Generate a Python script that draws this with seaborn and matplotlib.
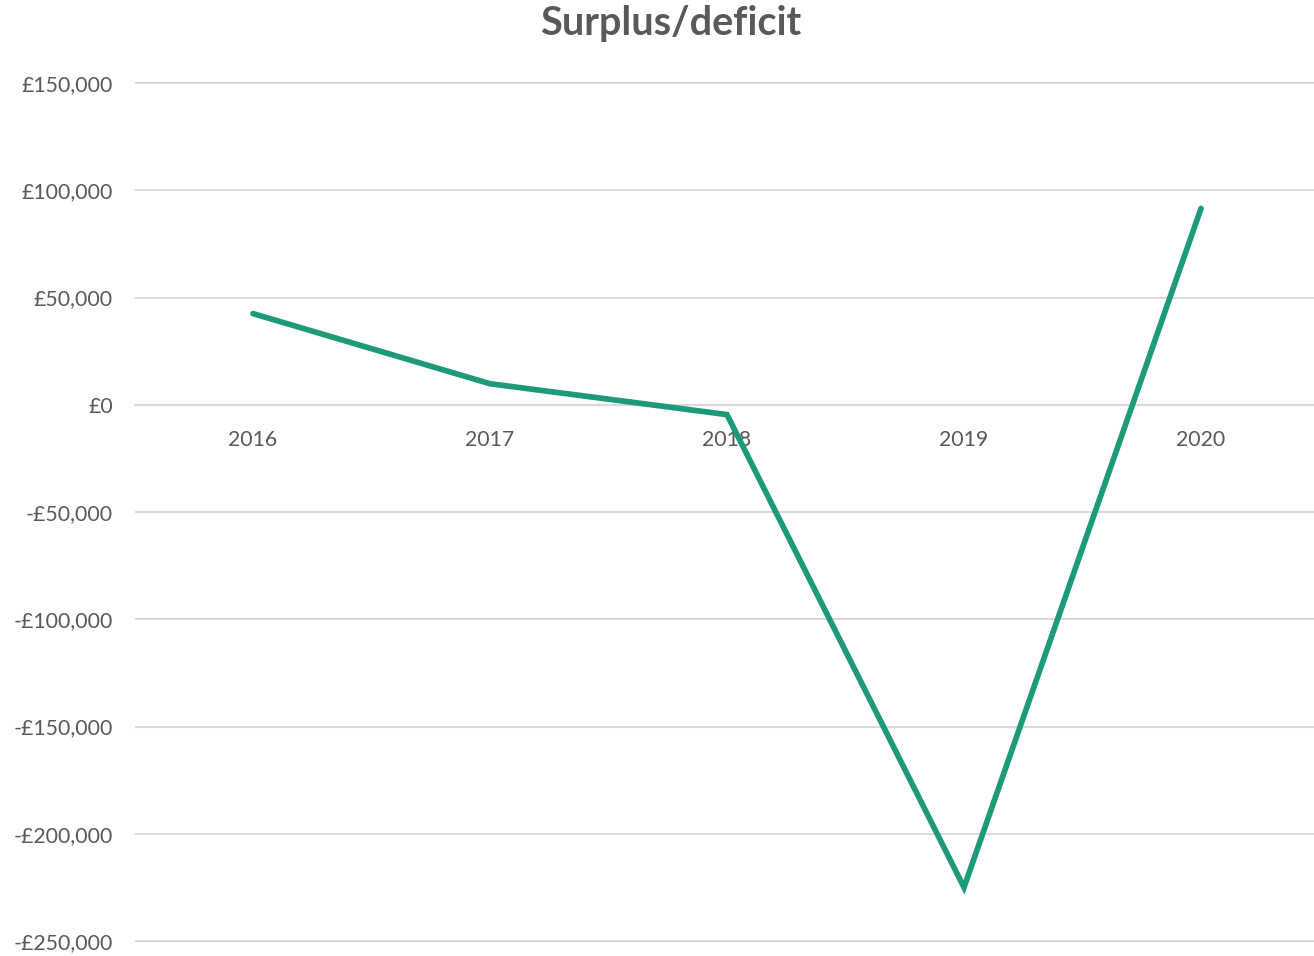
import matplotlib.pyplot as plt
import matplotlib.ticker as mticker
import pandas as pd
import seaborn as sns

# data
YEARS = ["2016", "2017", "2018", "2019", "2020"]
SURPLUS = [42500, 9800, -4600, -225000, 91500]
Y_TICKS = [150000, 100000, 50000, 0, -50000, -100000, -150000, -200000, -250000]

GREY = "#595959"
GRID = "#d9d9d9"
LINE = "#1d9a78"

sns.set_theme(style="white")
plt.rcParams["font.family"] = ["Lato", "DejaVu Sans"]

df = pd.DataFrame({"year": YEARS, "surplus": SURPLUS})

W, H = 1314, 956
fig = plt.figure(figsize=(W / 100, H / 100), dpi=100)
# axes placed in pixel terms so it lines up with the original
left, right, top, bottom = 135, 1314, 80, 944
ax = fig.add_axes([left / W, (H - bottom) / H, (right - left) / W, (bottom - top) / H])

sns.lineplot(data=df, x="year", y="surplus", ax=ax, color=LINE, linewidth=4.1,
             sort=False, solid_capstyle="round", solid_joinstyle="miter", zorder=3)

per_px = 400000 / 858
ax.set_ylim(-250000 - 3 * per_px, 150000 + 3 * per_px)
ax.set_xlim(-(253 - left) / 237, (right - 253) / 237)
ax.set_yticks(Y_TICKS)
ax.yaxis.set_major_formatter(mticker.FuncFormatter(
    lambda v, _: f"-£{abs(v):,.0f}" if v < 0 else f"£{v:,.0f}"))
ax.grid(axis="y", color=GRID, linewidth=1.5)
ax.set_axisbelow(True)

for s in ["left", "right", "top"]:
    ax.spines[s].set_visible(False)
# category labels sit on the zero line, as in the original
ax.spines["bottom"].set_position(("data", 0))
ax.spines["bottom"].set_color(GRID)
ax.spines["bottom"].set_linewidth(1.5)

ax.tick_params(axis="y", length=0, pad=16, labelsize=15.3, labelcolor=GREY)
ax.tick_params(axis="x", length=0, pad=18, labelsize=15.3, labelcolor=GREY)
ax.set_xlabel("")
ax.set_ylabel("")

fig.text(671 / W, 1 - 24 / H, "Surplus/deficit", ha="center", va="center",
         fontsize=28.5, fontweight="bold", color=GREY)

fig.savefig("out.png", dpi=100)
